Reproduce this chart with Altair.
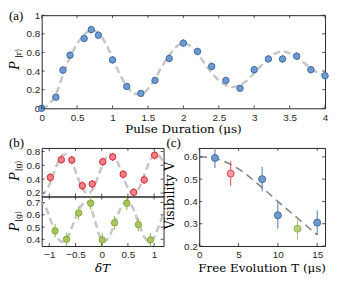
import altair as alt
import pandas as pd

AX = "#262626"
SERIF = "DejaVu Serif"
SANS = "Liberation Sans"

# ---------------- panel (a) data ----------------
a_t = [0, 0.2, 0.3, 0.4, 0.6, 0.7, 0.8, 1.0, 1.2, 1.4, 1.6, 1.8, 2.0, 2.2, 2.4, 2.6, 2.8, 3.0, 3.2, 3.4, 3.6, 3.8, 4.0]
a_p = [0.0, 0.12, 0.41, 0.57, 0.75, 0.845, 0.785, 0.52, 0.235, 0.16, 0.30, 0.535, 0.70, 0.61, 0.45, 0.30, 0.215, 0.415, 0.53, 0.53, 0.56, 0.415, 0.35]
a_err = [0.0, 0.03, 0.04, 0.04, 0.04, 0.04, 0.04, 0.04, 0.03, 0.03, 0.03, 0.04, 0.04, 0.04, 0.04, 0.03, 0.03, 0.04, 0.04, 0.04, 0.04, 0.04, 0.03]
fa_t = [0.0, 0.1, 0.2, 0.3, 0.4, 0.5, 0.6, 0.7, 0.8, 0.9, 1.0, 1.1, 1.2, 1.3, 1.4, 1.5, 1.6, 1.7, 1.8, 1.9, 2.0,
        2.1, 2.2, 2.3, 2.4, 2.5, 2.6, 2.7, 2.8, 2.9, 3.0, 3.1, 3.2, 3.3, 3.4, 3.5, 3.6, 3.7, 3.8, 3.9, 4.0]
fa_p = [0.0, 0.04, 0.15, 0.36, 0.55, 0.69, 0.79, 0.84, 0.81, 0.70, 0.54, 0.37, 0.24, 0.16, 0.15, 0.21, 0.32, 0.45, 0.57, 0.66, 0.70,
        0.67, 0.59, 0.48, 0.38, 0.30, 0.25, 0.23, 0.25, 0.30, 0.38, 0.46, 0.54, 0.59, 0.61, 0.59, 0.55, 0.49, 0.43, 0.38, 0.35]
a_xticks = [0, 0.5, 1, 1.5, 2, 2.5, 3, 3.5, 4]
a_yticks = [0, 0.2, 0.4, 0.6, 0.8, 1]

# ---------------- panel (b) data ----------------
br_x = [-0.98, -0.77, -0.57, -0.37, -0.18, 0.02, 0.21, 0.41, 0.61, 0.81, 1.01]
br_y = [0.425, 0.68, 0.675, 0.305, 0.33, 0.65, 0.72, 0.47, 0.21, 0.39, 0.745]
br_err = [0.06, 0.06, 0.06, 0.06, 0.06, 0.06, 0.06, 0.06, 0.06, 0.06, 0.06]
fbr_x = [-1.17, -1.14, -1.03, -0.92, -0.81, -0.70, -0.59, -0.48, -0.37, -0.27, -0.16, -0.05, 0.06, 0.17,
         0.28, 0.39, 0.50, 0.61, 0.71, 0.82, 0.93, 1.04, 1.15, 1.21]
fbr_y = [0.20, 0.19, 0.27, 0.475, 0.68, 0.76, 0.68, 0.475, 0.27, 0.19, 0.27, 0.475, 0.68, 0.76,
         0.68, 0.475, 0.27, 0.19, 0.27, 0.475, 0.68, 0.76, 0.68, 0.58]
bg_x = [-0.89, -0.67, -0.44, -0.21, 0.01, 0.245, 0.48, 0.70, 0.93]
bg_y = [0.47, 0.40, 0.615, 0.695, 0.395, 0.535, 0.695, 0.52, 0.395]
bg_err = [0.055, 0.055, 0.055, 0.055, 0.055, 0.055, 0.055, 0.055, 0.055]
fbg_x = [-1.20, -1.17, -1.07, -0.965, -0.86, -0.76, -0.64, -0.525, -0.41, -0.29, -0.21, -0.125, -0.04,
         0.04, 0.15, 0.26, 0.37, 0.48, 0.59, 0.695, 0.80, 0.91, 1.015, 1.12, 1.225]
fbg_y = [0.70, 0.71, 0.662, 0.545, 0.428, 0.38, 0.428, 0.545, 0.662, 0.71, 0.662, 0.545, 0.428,
         0.38, 0.428, 0.545, 0.662, 0.71, 0.662, 0.545, 0.428, 0.38, 0.428, 0.545, 0.662]
b_xticks = [-1, -0.5, 0, 0.5, 1]
bt_yticks = [0.2, 0.4, 0.6, 0.8]
bb_yticks = [0.4, 0.5, 0.6, 0.7]

# ---------------- panel (c) data ----------------
c_blue_t = [2, 8, 10, 15]
c_blue_v = [0.595, 0.50, 0.338, 0.305]
c_blue_e = [0.045, 0.055, 0.06, 0.055]
c_red_t = [4]
c_red_v = [0.525]
c_red_e = [0.055]
c_green_t = [12.5]
c_green_v = [0.278]
c_green_e = [0.05]
fc_t = [0, 1, 2, 3, 4, 5, 6, 7, 8, 9, 10, 11, 12, 13, 14, 15]
fc_v = [0.60, 0.598, 0.592, 0.582, 0.566, 0.546, 0.521, 0.492, 0.462, 0.431, 0.40, 0.37, 0.34, 0.31, 0.28, 0.25]
c_xticks = [0, 5, 10, 15]
c_yticks = [0.2, 0.3, 0.4, 0.5, 0.6]

BLUE_F, BLUE_S = "#6f9ad0", "#3e6aa6"
RED_F, RED_S = "#f07f86", "#d52a33"
GRN_F, GRN_S, GRN_E = "#a8c563", "#86a83a", "#8db33a"
FIT_L = "#c6c6c6"
FIT_D = "#808080"


def axis(vals, pad):
    return alt.Axis(values=vals, title=None, format="~g", labelPadding=pad,
                    ticks=False, domain=False, grid=False, labelFlush=False, labelOverlap=False)


def tick_layer(vals, ch, scale, ax, side, W, H, L=3):
    df = pd.DataFrame({"v": vals})
    m = alt.Chart(df).mark_rule(color=AX, strokeWidth=0.8)
    if ch == "x":
        enc = dict(x=alt.X("v:Q", scale=scale, axis=ax))
        if side == "bottom":
            enc.update(y=alt.value(H), y2=alt.value(H - L))
        else:
            enc.update(y=alt.value(0), y2=alt.value(L))
    else:
        enc = dict(y=alt.Y("v:Q", scale=scale, axis=ax))
        if side == "left":
            enc.update(x=alt.value(0), x2=alt.value(L))
        else:
            enc.update(x=alt.value(W), x2=alt.value(W - L))
    return m.encode(**enc)


def txt(s, x, y, size=12, angle=0, style="normal", align="center", baseline="middle", font=SERIF):
    return alt.Chart(pd.DataFrame({"s": [s]})).mark_text(
        text=s, font=font, fontSize=size, fontStyle=style, angle=angle, align=align,
        baseline=baseline, color="black").encode(x=alt.value(x), y=alt.value(y))


def fit_line(x, y, xs, ys, xax, yax, color, width, dash):
    return alt.Chart(pd.DataFrame({"x": x, "y": y})).mark_line(
        color=color, strokeWidth=width, strokeDash=dash, interpolate="monotone", clip=True).encode(
        x=alt.X("x:Q", scale=xs, axis=xax),
        y=alt.Y("y:Q", scale=ys, axis=yax))


def scatter(x, y, e, xs, ys, xax, yax, fill, stroke, ecol, size=42):
    df = pd.DataFrame({"x": x, "y": y, "e": e})
    df["lo"] = df["y"] - df["e"]
    df["hi"] = df["y"] + df["e"]
    err = alt.Chart(df).mark_rule(color=ecol, strokeWidth=1).encode(
        x=alt.X("x:Q", scale=xs, axis=xax),
        y=alt.Y("lo:Q", scale=ys, axis=yax), y2="hi:Q")
    pts = alt.Chart(df).mark_circle(size=size, color=fill, stroke=stroke, strokeWidth=1, opacity=1).encode(
        x=alt.X("x:Q", scale=xs, axis=xax),
        y=alt.Y("y:Q", scale=ys, axis=yax))
    return err, pts


def frame_ticks(xt, yt, xs, ys, xax, yax, W, H):
    return [tick_layer(xt, "x", xs, xax, "bottom", W, H), tick_layer(xt, "x", xs, xax, "top", W, H),
            tick_layer(yt, "y", ys, yax, "left", W, H), tick_layer(yt, "y", ys, yax, "right", W, H)]


# ---------------- panel (a) ----------------
AW, AH = 286, 94
xa = alt.Scale(domain=[0, 4], nice=False, zero=False)
ya = alt.Scale(domain=[0, 1], nice=False, zero=False)
xax_a, yax_a = axis(a_xticks, 4), axis(a_yticks, 2)
fitA = fit_line(fa_t, fa_p, xa, ya, xax_a, yax_a, FIT_L, 2.5, [7, 4])
errA, ptsA = scatter(a_t, a_p, a_err, xa, ya, xax_a, yax_a, BLUE_F, BLUE_S, BLUE_S)
A = alt.layer(
    fitA, errA, ptsA,
    *frame_ticks(a_xticks, a_yticks, xa, ya, xax_a, yax_a, AW, AH),
    txt("(a)", -33, -5, size=13, align="left", baseline="top", font="Liberation Serif"),
    txt("P", -27, 51, size=12.5, angle=270, style="italic"),
    txt("|r\u27e9", -22.5, 38.5, size=8, angle=270),
    txt("Pulse Duration (\u03bcs)", AW / 2, 115),
).properties(width=AW, height=AH)

# ---------------- panel (b) ----------------
BW, BTH, BBH = 123, 49, 50
xb = alt.Scale(domain=[-1.145, 1.18], nice=False, zero=False)
ybt = alt.Scale(domain=[0.15, 0.85], nice=False, zero=False)
ybb = alt.Scale(domain=[0.345, 0.75], nice=False, zero=False)
yax_bt = axis(bt_yticks, 2)
xax_bb, yax_bb = axis(b_xticks, 4), axis(bb_yticks, 2)

fitBt = fit_line(fbr_x, fbr_y, xb, ybt, None, yax_bt, FIT_L, 2.5, [7, 4])
errBt, ptsBt = scatter(br_x, br_y, br_err, xb, ybt, None, yax_bt, RED_F, RED_S, RED_S)
Btop = alt.layer(
    fitBt, errBt, ptsBt,
    *frame_ticks(b_xticks, bt_yticks, xb, ybt, None, yax_bt, BW, BTH),
    txt("(b)", -33, -5, size=13, align="left", font="Liberation Serif"),
    txt("P", -27, 29, size=12.5, angle=270, style="italic"),
    txt("|g\u27e9", -22.5, 18, size=8, angle=270),
).properties(width=BW, height=BTH)

fitBb = fit_line(fbg_x, fbg_y, xb, ybb, xax_bb, yax_bb, FIT_L, 2.5, [7, 4])
errBb, ptsBb = scatter(bg_x, bg_y, bg_err, xb, ybb, xax_bb, yax_bb, GRN_F, GRN_S, GRN_E)
Bbot = alt.layer(
    fitBb, errBb, ptsBb,
    *frame_ticks(b_xticks, bb_yticks, xb, ybb, xax_bb, yax_bb, BW, BBH),
    txt("P", -27, 31, size=12.5, angle=270, style="italic"),
    txt("|g\u27e9", -22.5, 20, size=8, angle=270),
    txt("\u03b4T", BW / 2, 72, style="italic"),
).properties(width=BW, height=BBH)

Bcol = alt.vconcat(Btop, Bbot, spacing=0, bounds="flush")

# ---------------- panel (c) ----------------
CW, CH = 127, 99
xc = alt.Scale(domain=[0, 16], nice=False, zero=False)
yc = alt.Scale(domain=[0.2, 0.64], nice=False, zero=False)
xax_c, yax_c = axis(c_xticks, 4), axis(c_yticks, 2)
fitC = fit_line(fc_t, fc_v, xc, yc, xax_c, yax_c, FIT_D, 1.5, [8, 5])
errCb, ptsCb = scatter(c_blue_t, c_blue_v, c_blue_e, xc, yc, xax_c, yax_c, BLUE_F, BLUE_S, "#4a78b2", size=50)
errCr, ptsCr = scatter(c_red_t, c_red_v, c_red_e, xc, yc, xax_c, yax_c, "#f39ca1", "#d9464d", "#d9464d", size=50)
errCg, ptsCg = scatter(c_green_t, c_green_v, c_green_e, xc, yc, xax_c, yax_c, "#b7d07a", "#97b450", "#a9c46f", size=50)
C = alt.layer(
    fitC, errCb, errCr, errCg, ptsCb, ptsCr, ptsCg,
    *frame_ticks(c_xticks, c_yticks, xc, yc, xax_c, yax_c, CW, CH),
    txt("(c)", -33, -5, size=13, align="left", font="Liberation Serif"),
    txt("Visibility V", -29.5, 48, size=12.5, angle=270),
    txt("Free Evolution T (\u03bcs)", CW / 2, 121),
).properties(width=CW, height=CH)

bottom = alt.hconcat(Bcol, C, spacing=159, bounds="flush")

chart = alt.vconcat(A, bottom, spacing=40, bounds="flush").properties(
    padding=0, background="white"
).configure_view(
    stroke=AX, strokeWidth=1
).configure_axis(
    labelFont=SANS, labelFontSize=10, labelColor=AX
)

chart.save("out.html", embed_options={"renderer": "svg", "actions": False})
